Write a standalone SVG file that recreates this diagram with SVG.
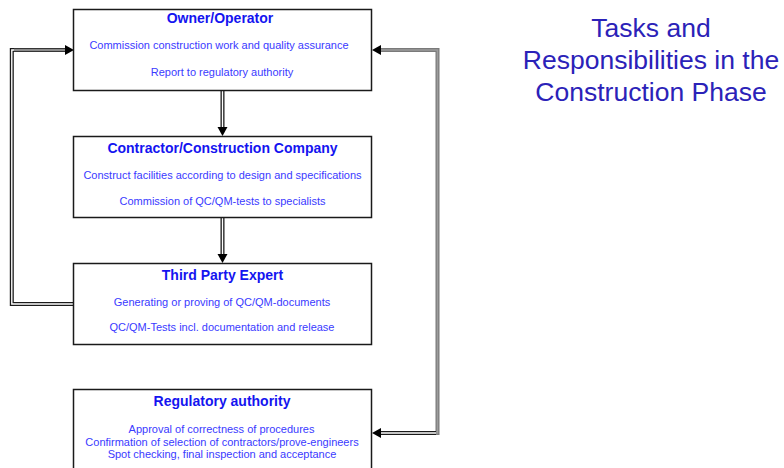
<svg xmlns="http://www.w3.org/2000/svg" width="784" height="468" viewBox="0 0 784 468">
  <defs>
    <style>
      .box { fill: #ffffff; stroke: #1a1a1a; stroke-width: 1.5; }
      .head { font-family: "Liberation Sans", Arial, sans-serif; font-size: 14px; font-weight: bold; fill: #1414f0; text-anchor: middle; }
      .item { font-family: "Liberation Sans", Arial, sans-serif; font-size: 11px; fill: #3a3aff; text-anchor: middle; }
      .title { font-family: "Liberation Sans", Arial, sans-serif; font-size: 26.5px; fill: #2b22b8; text-anchor: middle; }
      .dbl-out { fill: none; stroke: #1a1a1a; stroke-width: 4; }
      .dbl-in { fill: none; stroke: #ffffff; stroke-width: 1.4; }
      .grey-out { fill: none; stroke: #7a7a7a; stroke-width: 4; }
      .grey-in { fill: none; stroke: #9c9c9c; stroke-width: 1.6; }
      .arrow { fill: #000000; }
    </style>
  </defs>

  <rect width="784" height="468" fill="#ffffff"/>

  <!-- connectors -->
  <g id="connectors">
    <!-- owner to contractor -->
    <path class="dbl-out" d="M222.5,91 V128"/>
    <path class="dbl-in" d="M222.5,91 V128"/>
    <polygon class="arrow" points="217.5,127 227.5,127 222.5,136"/>

    <!-- contractor to expert -->
    <path class="dbl-out" d="M222.5,218 V255"/>
    <path class="dbl-in" d="M222.5,218 V255"/>
    <polygon class="arrow" points="217.5,254 227.5,254 222.5,263"/>

    <!-- expert back to owner -->
    <path class="dbl-out" d="M73,304 H11.8 V50 H66"/>
    <path class="dbl-in" d="M73,304 H11.8 V50 H66"/>
    <path d="M14,50 H66" stroke="#8a8a8a" stroke-width="2.5" fill="none"/>
    <polygon class="arrow" points="65,45 65,55 74,50"/>

    <!-- regulatory authority to owner -->
    <path class="grey-out" d="M380,50 H437.5 V433 H380"/>
    <path class="grey-in" d="M380,50 H437.5 V433 H380"/>
    <path d="M380,433 H436" stroke="#1a1a1a" stroke-width="4" fill="none"/>
    <path d="M380,433 H436" stroke="#ffffff" stroke-width="1.4" fill="none"/>
    <polygon class="arrow" points="381,45 381,55 372,50"/>
    <polygon class="arrow" points="381,428 381,438 372,433"/>
  </g>

  <!-- nodes -->
  <g id="owner">
    <rect class="box" x="73.5" y="9.5" width="298" height="81"/>
    <text class="head" x="220" y="22.5">Owner/Operator</text>
    <text class="item" x="219" y="48.5">Commission construction work and quality assurance</text>
    <text class="item" x="222" y="76">Report to regulatory authority</text>
  </g>

  <g id="contractor">
    <rect class="box" x="73.5" y="136.5" width="298" height="81"/>
    <text class="head" x="222.5" y="153">Contractor/Construction Company</text>
    <text class="item" x="222.5" y="179">Construct facilities according to design and specifications</text>
    <text class="item" x="222.5" y="204.5">Commission of QC/QM-tests to specialists</text>
  </g>

  <g id="expert">
    <rect class="box" x="73.5" y="263.5" width="298" height="81"/>
    <text class="head" x="222.5" y="280">Third Party Expert</text>
    <text class="item" x="222" y="305.5">Generating or proving of QC/QM-documents</text>
    <text class="item" x="222" y="331">QC/QM-Tests incl. documentation and release</text>
  </g>

  <g id="authority">
    <rect class="box" x="73.5" y="389.5" width="298" height="90"/>
    <text class="head" x="222" y="405.5">Regulatory authority</text>
    <text class="item" x="221.5" y="433">Approval of correctness of procedures</text>
    <text class="item" x="222" y="445.5">Confirmation of selection of contractors/prove-engineers</text>
    <text class="item" x="222" y="458">Spot checking, final inspection and acceptance</text>
  </g>

  <g id="heading">
    <text class="title" x="651" y="37">Tasks and</text>
    <text class="title" x="651" y="69">Responsibilities in the</text>
    <text class="title" x="651" y="101">Construction Phase</text>
  </g>
</svg>
